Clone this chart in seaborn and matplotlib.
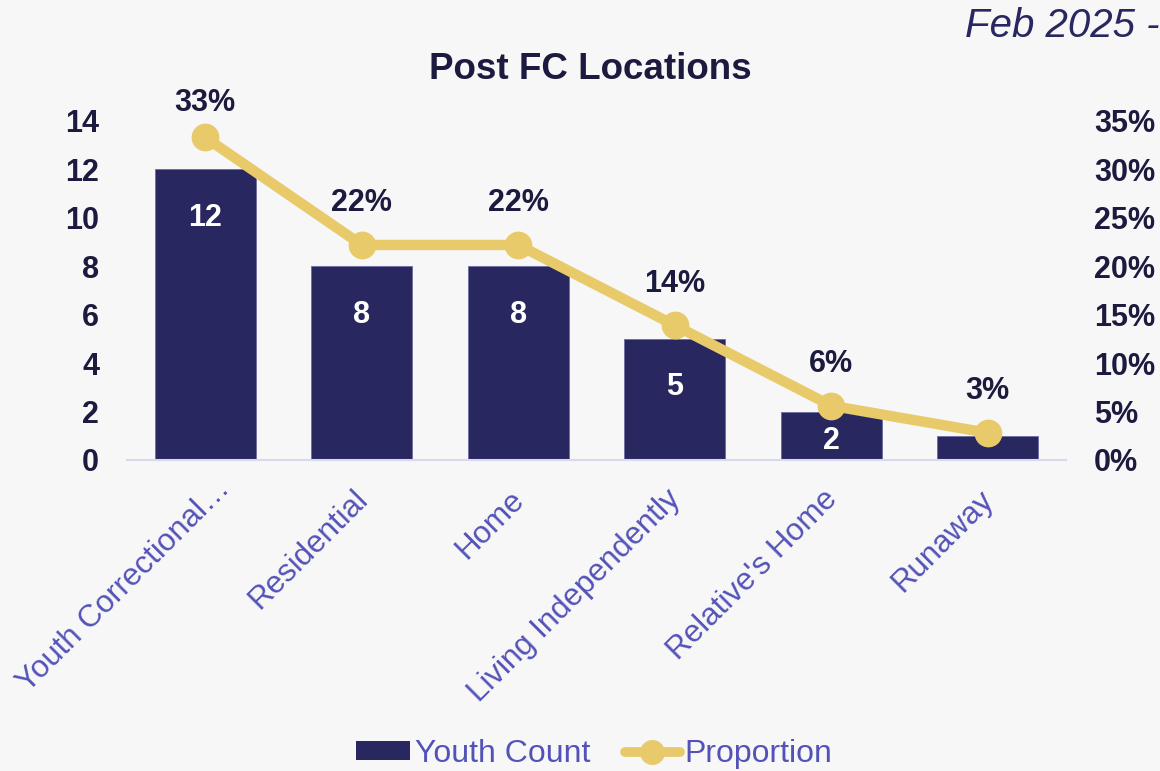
import matplotlib
matplotlib.use("Agg")
import matplotlib.pyplot as plt
import matplotlib.transforms as mtransforms
import seaborn as sns
import pandas as pd
from matplotlib.lines import Line2D
from matplotlib.patches import Patch
from matplotlib.ticker import PercentFormatter

# Data
locations = ['Youth Correctional…', 'Residential', 'Home',
             'Living Independently', "Relative's Home", 'Runaway']
youth_count = [12, 8, 8, 5, 2, 1]
proportion = [0.333, 0.222, 0.222, 0.139, 0.056, 0.028]
count_labels = ['12', '8', '8', '5', '2', '']
pct_labels = ['33%', '22%', '22%', '14%', '6%', '3%']

df = pd.DataFrame({'Location': locations, 'Count': youth_count,
                   'Proportion': proportion})

BG = '#f7f7f7'
NAVY = '#29275f'
GOLD = '#e8ca6a'
DARK = '#1c1b3f'
LABEL = '#5352b8'

sns.set_style('white')
plt.rcParams['font.family'] = ['Liberation Sans', 'DejaVu Sans']

fig = plt.figure(figsize=(11.6, 7.71), dpi=100, facecolor=BG)
ax = fig.add_axes([0.1095, 0.4034, 0.8095, 0.4397])
ax.set_facecolor(BG)

sns.barplot(data=df, x='Location', y='Count', color=NAVY, width=0.645,
            edgecolor='#6e6ca0', linewidth=0.6, saturation=1, ax=ax)
ax.set_xlim(-0.5, len(locations) - 0.5)
ax.set_ylim(0, 14)
ax.set_yticks(range(0, 15, 2))
ax.set_xlabel('')
ax.set_ylabel('')
for s in ['top', 'left', 'right']:
    ax.spines[s].set_visible(False)
ax.spines['bottom'].set_color('#d8d8ee')
ax.spines['bottom'].set_linewidth(1.5)
ax.tick_params(axis='y', length=0, pad=20, labelsize=22, labelcolor=DARK)
ax.tick_params(axis='x', length=0, pad=4, labelsize=22.5, labelcolor=LABEL)
for lbl in ax.get_yticklabels():
    lbl.set_fontweight('bold')
for i, lbl in enumerate(ax.get_xticklabels()):
    lbl.set_rotation(45)
    lbl.set_ha('right')
    lbl.set_va('top')
    lbl.set_rotation_mode('anchor')
    dx, dy = (10, -8) if i == 0 else (-9, -19)
    shift = mtransforms.ScaledTranslation(dx / 100, dy / 100, fig.dpi_scale_trans)
    lbl.set_transform(lbl.get_transform() + shift)

# count labels inside bars
for i, (v, t) in enumerate(zip(youth_count, count_labels)):
    if t:
        ypos = v - 2.0 if v > 4 else v * 0.4
        ax.text(i, ypos, t, ha='center', va='center', color='white',
                fontsize=22, fontweight='bold')

ax2 = ax.twinx()
sns.lineplot(x=list(range(len(locations))), y=proportion, color=GOLD,
             linewidth=7.5, marker='o', markersize=20, markeredgewidth=0,
             ax=ax2, legend=False)
ax2.set_ylim(0, 0.35)
ax2.set_yticks([i * 0.05 for i in range(8)])
ax2.yaxis.set_major_formatter(PercentFormatter(1.0, decimals=0))
for s in ['top', 'left', 'right', 'bottom']:
    ax2.spines[s].set_visible(False)
ax2.tick_params(axis='y', length=0, pad=20, labelsize=22, labelcolor=DARK)
for lbl in ax2.get_yticklabels():
    lbl.set_fontweight('bold')

for i, (p, t) in enumerate(zip(proportion, pct_labels)):
    off = 25 if i == 0 else 30
    ax2.annotate(t, (i, p), xytext=(0, off), textcoords='offset points',
                 ha='center', va='center', color=DARK, fontsize=22,
                 fontweight='bold')

fig.text(0.509, 0.91, 'Post FC Locations', ha='center', va='center',
         color=DARK, fontsize=26.5, fontweight='bold')
fig.text(0.832, 0.966, 'Feb 2025 -', ha='left', va='center',
         color=NAVY, fontsize=29, fontstyle='italic')

handles = [Patch(facecolor=NAVY, edgecolor='none'),
           Line2D([0], [0], color=GOLD, linewidth=7, marker='o',
                  markersize=18, markeredgewidth=0)]
leg = fig.legend(handles, ['Youth Count', 'Proportion'], loc='center',
                 bbox_to_anchor=(0.512, 0.022), ncol=2, frameon=False,
                 fontsize=23, handlelength=1.7, handleheight=0.55,
                 handletextpad=0.15, columnspacing=1.1)
for t in leg.get_texts():
    t.set_color(LABEL)

fig.savefig('out.png', dpi=100, facecolor=BG)
